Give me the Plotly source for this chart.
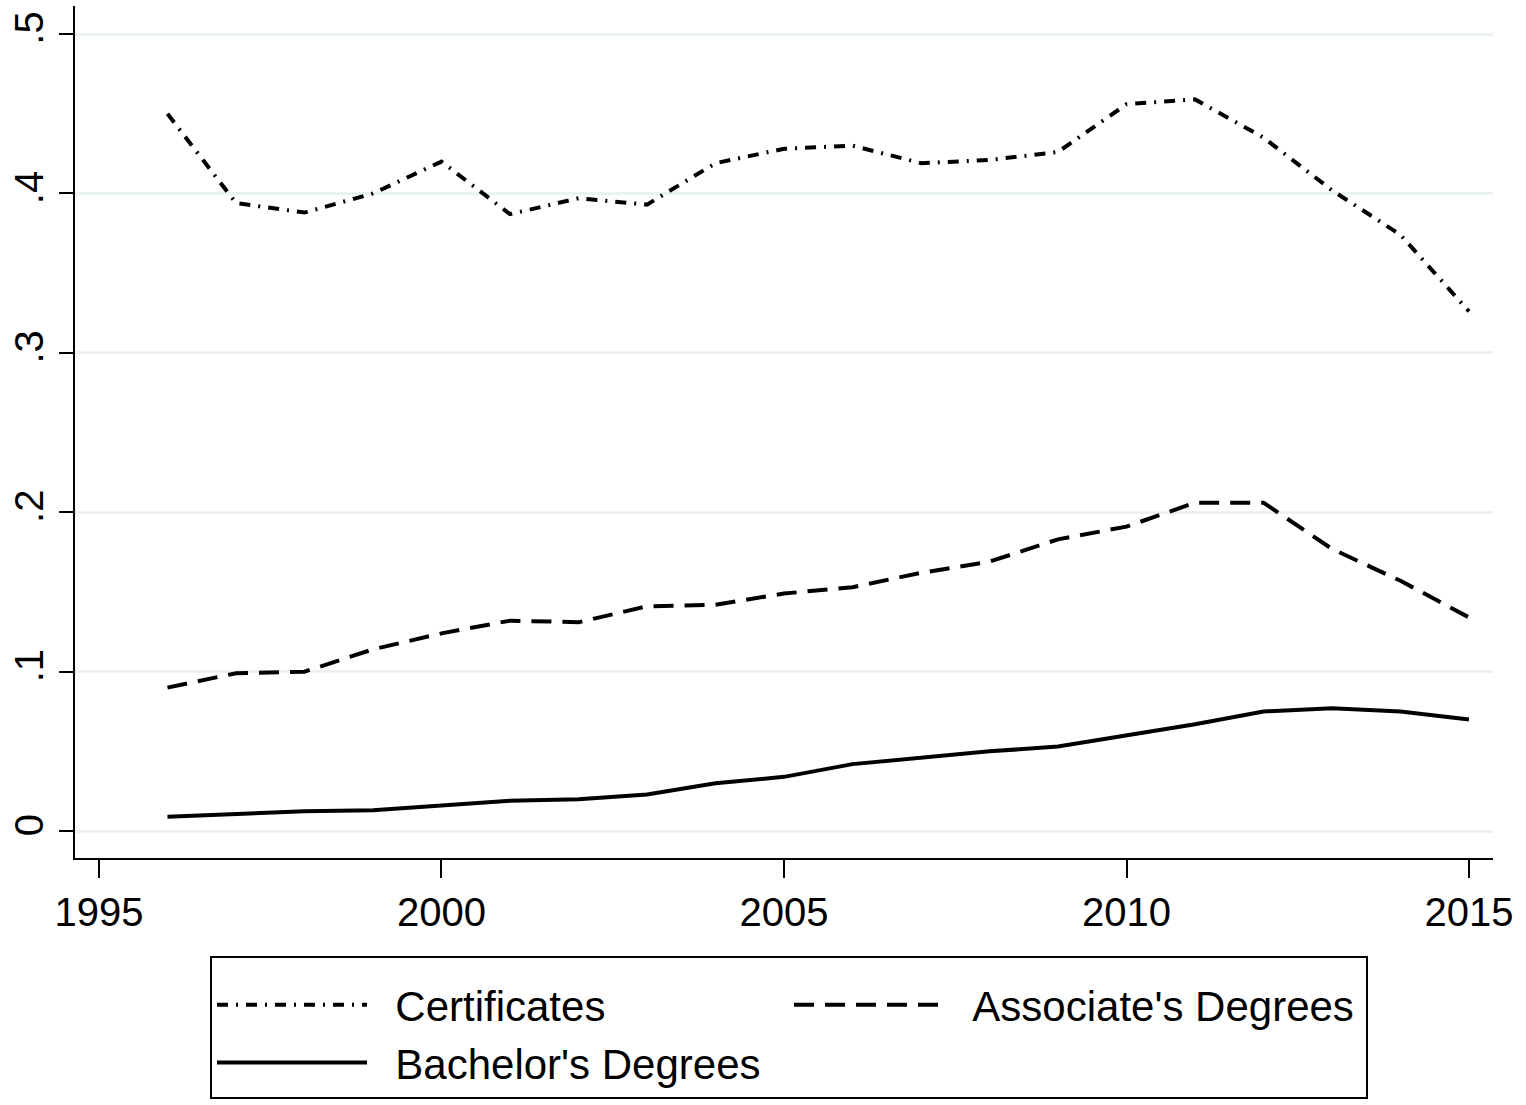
import plotly.graph_objects as go

years = list(range(1996, 2016))

certificates = [0.450, 0.394, 0.388, 0.400, 0.420, 0.387, 0.397, 0.393, 0.419, 0.428,
                0.430, 0.419, 0.421, 0.426, 0.456, 0.459, 0.435, 0.402, 0.374, 0.326]
associates = [0.090, 0.099, 0.100, 0.114, 0.124, 0.132, 0.131, 0.141, 0.142, 0.149,
              0.153, 0.162, 0.169, 0.183, 0.191, 0.206, 0.206, 0.177, 0.157, 0.134]
bachelors = [0.009, 0.0105, 0.0124, 0.013, 0.016, 0.019, 0.020, 0.023, 0.030, 0.034,
             0.042, 0.046, 0.050, 0.053, 0.060, 0.067, 0.075, 0.077, 0.075, 0.070]

x_ticks = [1995, 2000, 2005, 2010, 2015]
y_ticks = [0, 0.1, 0.2, 0.3, 0.4, 0.5]
y_labels = ["0", ".1", ".2", ".3", ".4", ".5"]

FONT = "Liberation Sans Narrow, Arial Narrow, Liberation Sans, Arial, sans-serif"
PAD = "\u00a0\u00a0"  # a bit of room between legend key and label

fig = go.Figure()

fig.add_trace(go.Scatter(
    x=years, y=certificates, mode="lines", name=PAD + "Certificates",
    line=dict(color="black", width=4, dash="11px,8px,2px,8px"),
))
fig.add_trace(go.Scatter(
    x=years, y=associates, mode="lines", name=PAD + "Associate's Degrees",
    line=dict(color="black", width=4, dash="20px,11px"),
))
fig.add_trace(go.Scatter(
    x=years, y=bachelors, mode="lines", name=PAD + "Bachelor's Degrees",
    line=dict(color="black", width=4),
))

fig.update_layout(
    width=1526, height=1105,
    margin=dict(l=75, r=33, t=6, b=247, autoexpand=False),
    paper_bgcolor="white", plot_bgcolor="white",
    font=dict(family=FONT, size=40, color="black"),
    showlegend=True,
    legend=dict(
        orientation="h",
        x=0.0952, y=-0.115, xanchor="left", yanchor="top",
        entrywidth=412, entrywidthmode="pixels",
        itemwidth=150,
        bordercolor="black", borderwidth=2, bgcolor="white",
        font=dict(family=FONT, size=42, color="black"),
        # blank title only adds a little top padding inside the box
        title=dict(text="\u00a0", side="top", font=dict(size=10)),
    ),
    xaxis=dict(
        range=[1994.65, 2015.35], automargin=False,
        tickvals=x_ticks, ticks="outside", ticklen=18, tickwidth=2, tickcolor="black",
        showline=True, linecolor="black", linewidth=2,
        showgrid=False, zeroline=False,
    ),
    yaxis=dict(
        range=[-0.0169, 0.5176], automargin=False,
        tickvals=y_ticks, ticktext=y_labels, tickangle=-90,
        ticks="outside", ticklen=14, tickwidth=2, tickcolor="black",
        showline=True, linecolor="black", linewidth=2,
        showgrid=True, gridcolor="#EAF2F3", gridwidth=3, zeroline=False,
    ),
)

# drop the default 8px body margin so the figure sits flush in the window
fig.write_html("out.html", config={"displayModeBar": False},
               post_script="document.body.style.margin = '0';")
